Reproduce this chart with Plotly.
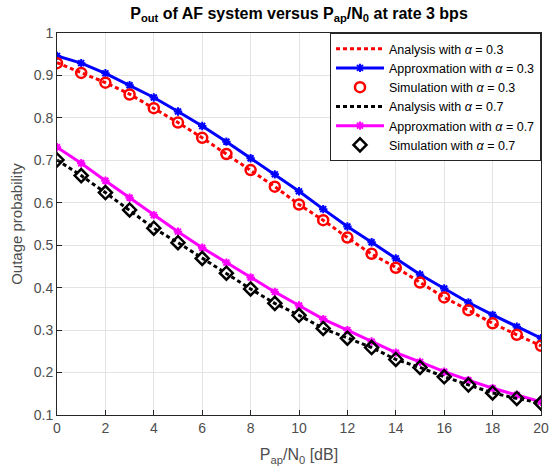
import plotly.graph_objects as go

# SNR axis P_ap/N_0 in dB
snr_db = list(range(0, 21))

# alpha = 0.3
analysis_a3 = [0.930, 0.906, 0.883, 0.856, 0.823, 0.789, 0.753, 0.715, 0.677, 0.638, 0.596,
               0.559, 0.518, 0.479, 0.448, 0.412, 0.377, 0.347, 0.316, 0.289, 0.263]
approx_a3 = [0.946, 0.929, 0.905, 0.877, 0.848, 0.815, 0.781, 0.744, 0.705, 0.667, 0.627,
             0.585, 0.544, 0.507, 0.469, 0.431, 0.398, 0.365, 0.336, 0.308, 0.281]
sim_a3 = [0.929, 0.906, 0.883, 0.855, 0.823, 0.789, 0.753, 0.715, 0.677, 0.638, 0.596,
          0.559, 0.518, 0.480, 0.447, 0.412, 0.377, 0.347, 0.316, 0.289, 0.263]

# alpha = 0.7
analysis_a7 = [0.701, 0.664, 0.624, 0.583, 0.540, 0.506, 0.469, 0.434, 0.397, 0.363, 0.335,
               0.304, 0.281, 0.259, 0.231, 0.212, 0.190, 0.171, 0.152, 0.139, 0.128]
approx_a7 = [0.731, 0.693, 0.652, 0.612, 0.571, 0.532, 0.494, 0.459, 0.424, 0.390, 0.358,
             0.326, 0.300, 0.273, 0.247, 0.225, 0.202, 0.182, 0.163, 0.147, 0.131]
sim_a7 = [0.701, 0.664, 0.624, 0.583, 0.540, 0.506, 0.469, 0.434, 0.397, 0.363, 0.335,
          0.304, 0.281, 0.259, 0.231, 0.212, 0.190, 0.171, 0.152, 0.139, 0.128]

x_ticks = list(range(0, 21, 2))
y_ticks = [0.1, 0.2, 0.3, 0.4, 0.5, 0.6, 0.7, 0.8, 0.9, 1.0]
y_tick_text = ["0.1", "0.2", "0.3", "0.4", "0.5", "0.6", "0.7", "0.8", "0.9", "1"]

AL = "<i>α</i>"

fig = go.Figure()

fig.add_trace(go.Scatter(
    x=snr_db, y=approx_a3, mode="lines+markers",
    name=f"Approxmation with {AL} = 0.3",
    line=dict(color="#0000ff", width=3),
    marker=dict(symbol="asterisk-open", size=7, color="#0000ff",
                line=dict(color="#0000ff", width=2)),
    legendrank=2,
))
fig.add_trace(go.Scatter(
    x=snr_db, y=analysis_a3, mode="lines",
    name=f"Analysis with {AL} = 0.3",
    line=dict(color="#ff0000", width=3, dash="4px,3px"),
    legendrank=1,
))
fig.add_trace(go.Scatter(
    x=snr_db, y=sim_a3, mode="markers",
    name=f"Simulation with {AL} = 0.3",
    marker=dict(symbol="circle-open", size=10, color="#ff0000",
                line=dict(color="#ff0000", width=2.5)),
    legendrank=3,
))
fig.add_trace(go.Scatter(
    x=snr_db, y=approx_a7, mode="lines+markers",
    name=f"Approxmation with {AL} = 0.7",
    line=dict(color="#ff00ff", width=3),
    marker=dict(symbol="asterisk-open", size=7, color="#ff00ff",
                line=dict(color="#ff00ff", width=2)),
    legendrank=5,
))
fig.add_trace(go.Scatter(
    x=snr_db, y=analysis_a7, mode="lines",
    name=f"Analysis with {AL} = 0.7",
    line=dict(color="#000000", width=3, dash="4px,3px"),
    legendrank=4,
))
fig.add_trace(go.Scatter(
    x=snr_db, y=sim_a7, mode="markers",
    name=f"Simulation with {AL} = 0.7",
    marker=dict(symbol="diamond-open", size=10, color="#000000",
                line=dict(color="#000000", width=2.5)),
    legendrank=6,
))

axis_common = dict(
    showline=True, linecolor="#262626", linewidth=1, mirror=True,
    ticks="inside", ticklen=5, tickcolor="#262626",
    showgrid=True, gridcolor="#e3e3e3", gridwidth=1,
    zeroline=False,
    tickfont=dict(family="Liberation Sans, Arial", size=14, color="#4d4d4d"),
)

fig.update_layout(
    width=558, height=472,
    margin=dict(l=57, r=9, t=33, b=57),
    paper_bgcolor="white", plot_bgcolor="white",
    font=dict(family="Liberation Sans, Arial", color="#262626"),
    title=dict(
        text="<b>P<sub>out</sub> of AF system versus P<sub>ap</sub>/N<sub>0</sub> at rate 3 bps</b>",
        font=dict(size=16, color="#000000"),
        x=0.5, xref="paper", xanchor="center",
        y=1 - 13 / 472, yref="container", yanchor="middle",
    ),
    xaxis=dict(
        range=[0, 20], tickvals=x_ticks,
        title=dict(text="P<sub>ap</sub>/N<sub>0</sub> [dB]",
                   font=dict(size=16, color="#4d4d4d"), standoff=14),
        **axis_common,
    ),
    yaxis=dict(
        range=[0.1, 1.0], tickvals=y_ticks, ticktext=y_tick_text,
        title=dict(text="Outage probability",
                   font=dict(size=15, color="#4d4d4d"), standoff=7),
        **axis_common,
    ),
    legend=dict(
        x=1, y=1, xanchor="right", yanchor="top",
        bgcolor="white", bordercolor="#262626", borderwidth=1,
        font=dict(family="Liberation Sans, Arial", size=12.5, color="#000000"),
        tracegroupgap=0, itemwidth=48,
    ),
    showlegend=True,
)

fig.write_html("out.html")
